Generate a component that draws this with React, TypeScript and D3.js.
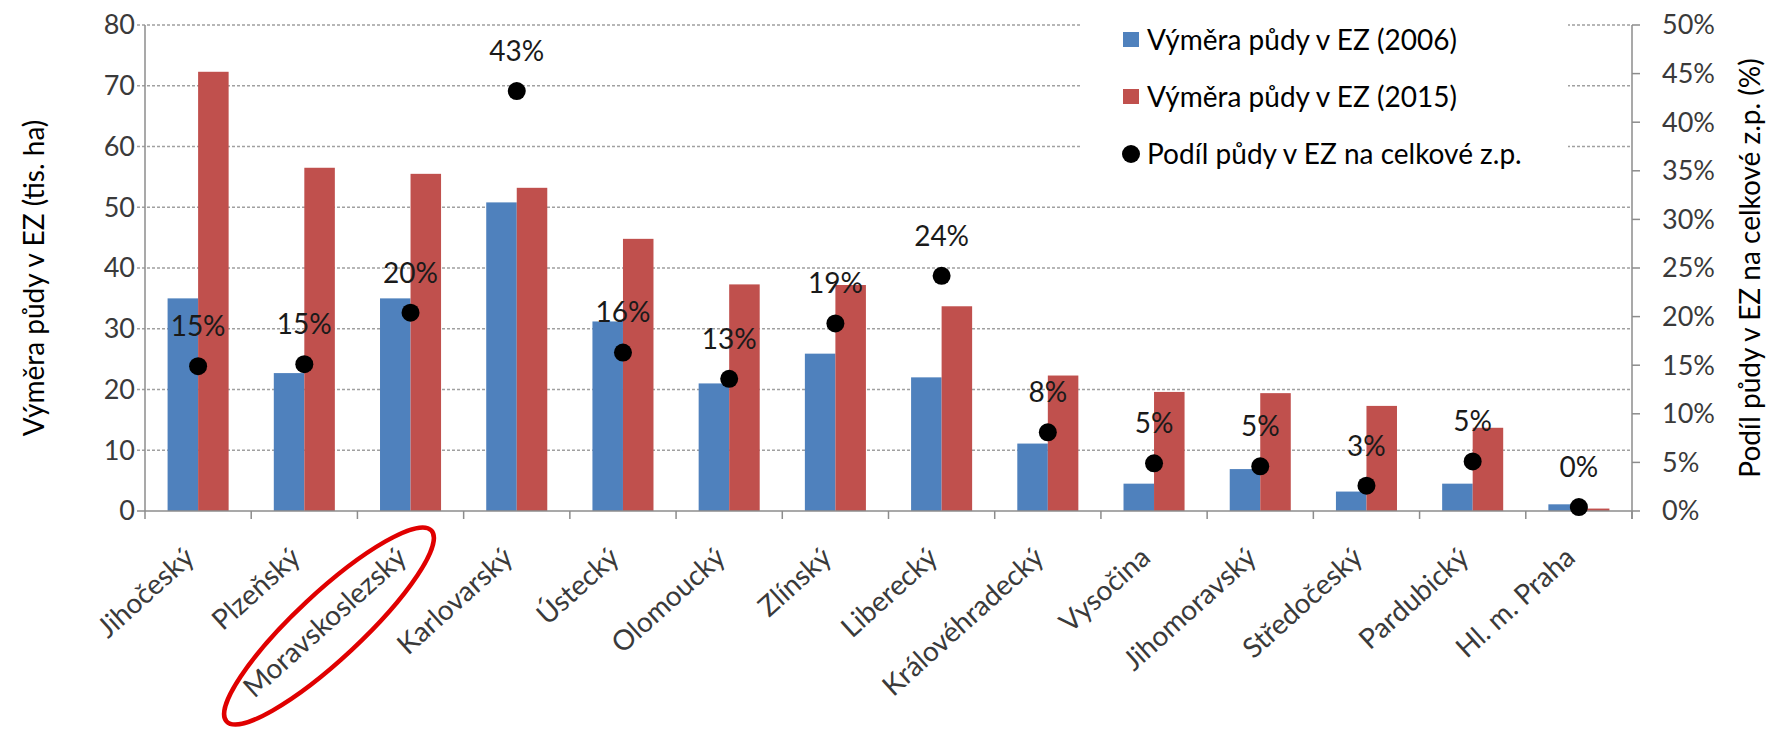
import * as d3 from 'd3';
import React, { useEffect, useRef } from 'react';

// regions, left to right
const regions = [
  'Jihočeský', 'Plzeňský', 'Moravskoslezský', 'Karlovarský', 'Ústecký',
  'Olomoucký', 'Zlínský', 'Liberecký', 'Královéhradecký', 'Vysočina',
  'Jihomoravský', 'Středočeský', 'Pardubický', 'Hl. m. Praha',
];
// thousand ha of organic land
const area2006 = [35, 22.7, 35, 50.8, 31.2, 21, 25.9, 22, 11.1, 4.5, 6.9, 3.2, 4.5, 1.1];
const area2015 = [72.3, 56.5, 55.5, 53.2, 44.8, 37.3, 37.2, 33.7, 22.3, 19.6, 19.4, 17.3, 13.7, 0.4];
// share of organic land in total agricultural land
const share = [0.149, 0.151, 0.204, 0.432, 0.163, 0.136, 0.193, 0.242, 0.081, 0.049, 0.046, 0.026, 0.051, 0.004];
const shareLabels = ['15%', '15%', '20%', '43%', '16%', '13%', '19%', '24%', '8%', '5%', '5%', '3%', '5%', '0%'];

const leftTicks = [0, 10, 20, 30, 40, 50, 60, 70, 80];
const rightTicks = [0, 0.05, 0.1, 0.15, 0.2, 0.25, 0.3, 0.35, 0.4, 0.45, 0.5];

const legendItems = [
  { label: 'Výměra půdy v EZ (2006)', kind: 'rect', color: '#4F81BD' },
  { label: 'Výměra půdy v EZ (2015)', kind: 'rect', color: '#C0504D' },
  { label: 'Podíl půdy v EZ na celkové z.p.', kind: 'dot', color: '#000' },
];

const FONT = 'Lato, "Open Sans", sans-serif';

const App: React.FC = () => {
  const svgRef = useRef<SVGSVGElement>(null);

  useEffect(() => {
    if (!svgRef.current) return;
    const width = 1767;
    const height = 734;
    const svg = d3.select(svgRef.current);
    svg.selectAll('*').remove();
    svg.attr('width', width).attr('height', height);

    const left = 145;
    const right = 1632;
    const top = 25;
    const bottom = 511;
    const axisColor = '#8c8c8c';
    const textColor = '#3a3a3a';

    const x = d3.scaleBand<string>().domain(regions).range([left, right]);
    const xSub = d3.scaleBand<string>().domain(['2006', '2015']).range([0, x.bandwidth()]).paddingOuter(0.74);
    const y = d3.scaleLinear().domain([0, 80]).range([bottom, top]);
    const yR = d3.scaleLinear().domain([0, 0.5]).range([bottom, top]);

    // gridlines
    svg.append('g')
      .selectAll('line')
      .data(leftTicks.slice(1))
      .enter()
      .append('line')
      .attr('x1', left - 8)
      .attr('x2', right)
      .attr('y1', d => y(d))
      .attr('y2', d => y(d))
      .attr('stroke', '#a0a0a0')
      .attr('stroke-width', 1.3)
      .attr('stroke-dasharray', '3,2');

    // legend background hides the grid behind it
    svg.append('rect')
      .attr('x', 1081)
      .attr('y', 0)
      .attr('width', 487)
      .attr('height', 180)
      .attr('fill', '#fff');

    // bars
    const series = [
      { key: '2006', values: area2006, color: '#4F81BD' },
      { key: '2015', values: area2015, color: '#C0504D' },
    ];
    series.forEach(s => {
      svg.append('g')
        .selectAll('rect')
        .data(regions)
        .enter()
        .append('rect')
        .attr('x', d => (x(d) ?? 0) + (xSub(s.key) ?? 0))
        .attr('width', xSub.bandwidth())
        .attr('y', (_, i) => y(s.values[i]))
        .attr('height', (_, i) => bottom - y(s.values[i]))
        .attr('fill', s.color);
    });

    // axes lines
    const axes = svg.append('g').attr('stroke', axisColor).attr('stroke-width', 1.5);
    axes.append('line').attr('x1', left).attr('x2', left).attr('y1', top).attr('y2', bottom);
    axes.append('line').attr('x1', right).attr('x2', right).attr('y1', top).attr('y2', bottom + 8);
    axes.append('line').attr('x1', left - 8).attr('x2', right).attr('y1', bottom).attr('y2', bottom);
    axes.selectAll('.xt')
      .data(d3.range(regions.length + 1))
      .enter()
      .append('line')
      .attr('x1', i => left + i * x.step())
      .attr('x2', i => left + i * x.step())
      .attr('y1', bottom)
      .attr('y2', bottom + 8);
    axes.selectAll('.rt')
      .data(rightTicks)
      .enter()
      .append('line')
      .attr('x1', right)
      .attr('x2', right + 8)
      .attr('y1', d => yR(d))
      .attr('y2', d => yR(d));

    // tick labels
    svg.append('g')
      .selectAll('text')
      .data(leftTicks)
      .enter()
      .append('text')
      .attr('x', 135)
      .attr('y', d => y(d))
      .attr('dy', '0.35em')
      .attr('text-anchor', 'end')
      .style('font-family', FONT)
      .style('font-size', '27px')
      .style('fill', textColor)
      .text(d => d);

    svg.append('g')
      .selectAll('text')
      .data(rightTicks)
      .enter()
      .append('text')
      .attr('x', 1662)
      .attr('y', d => yR(d))
      .attr('dy', '0.35em')
      .style('font-family', FONT)
      .style('font-size', '27px')
      .style('fill', textColor)
      .text(d => `${Math.round(d * 100)}%`);

    // category labels
    svg.append('g')
      .selectAll('text')
      .data(regions)
      .enter()
      .append('text')
      .attr('transform', d => `translate(${(x(d) ?? 0) + x.bandwidth() / 2 - 2},${bottom + 49}) rotate(-42)`)
      .attr('text-anchor', 'end')
      .style('font-family', FONT)
      .style('font-size', '28px')
      .style('fill', textColor)
      .text(d => d);

    // axis titles
    svg.append('text')
      .attr('transform', `translate(34,${(top + bottom) / 2 + 10}) rotate(-90)`)
      .attr('text-anchor', 'middle')
      .attr('dy', '0.35em')
      .style('font-family', FONT)
      .style('font-size', '28px')
      .style('fill', '#000')
      .text('Výměra půdy v EZ (tis. ha)');

    svg.append('text')
      .attr('transform', `translate(1750,${(top + bottom) / 2}) rotate(-90)`)
      .attr('text-anchor', 'middle')
      .attr('dy', '0.35em')
      .style('font-family', FONT)
      .style('font-size', '28px')
      .style('fill', '#000')
      .text('Podíl půdy v EZ na celkové z.p. (%)');

    // share dots and labels
    const center = (d: string) => (x(d) ?? 0) + x.bandwidth() / 2;
    svg.append('g')
      .selectAll('circle')
      .data(regions)
      .enter()
      .append('circle')
      .attr('cx', center)
      .attr('cy', (_, i) => yR(share[i]))
      .attr('r', 9)
      .attr('fill', '#000');

    svg.append('g')
      .selectAll('text')
      .data(regions)
      .enter()
      .append('text')
      .attr('x', center)
      .attr('y', (_, i) => yR(share[i]) - 40)
      .attr('dy', '0.35em')
      .attr('text-anchor', 'middle')
      .style('font-family', FONT)
      .style('font-size', '28px')
      .style('fill', '#1a1a1a')
      .text((_, i) => shareLabels[i]);

    // legend
    const lg = svg.append('g').attr('transform', 'translate(1123,0)');
    legendItems.forEach((item, i) => {
      const cy = 40 + i * 57;
      if (item.kind === 'rect') {
        lg.append('rect').attr('x', 0).attr('y', cy - 8).attr('width', 16).attr('height', 15).attr('fill', item.color);
      } else {
        lg.append('circle').attr('cx', 8).attr('cy', cy).attr('r', 9).attr('fill', item.color);
      }
      lg.append('text')
        .attr('x', 24)
        .attr('y', cy)
        .attr('dy', '0.35em')
        .style('font-family', FONT)
        .style('font-size', '28px')
        .style('fill', '#000')
        .text(item.label);
    });

    // red highlight ellipse around Moravskoslezský
    svg.append('ellipse')
      .attr('transform', 'translate(329,626) rotate(-43)')
      .attr('rx', 140)
      .attr('ry', 33)
      .attr('fill', 'none')
      .attr('stroke', '#e00000')
      .attr('stroke-width', 4.5);
  }, []);

  return (
    <div style={{ position: 'absolute', left: 0, top: 0 }}>
      <svg ref={svgRef} />
    </div>
  );
};

export default App;
